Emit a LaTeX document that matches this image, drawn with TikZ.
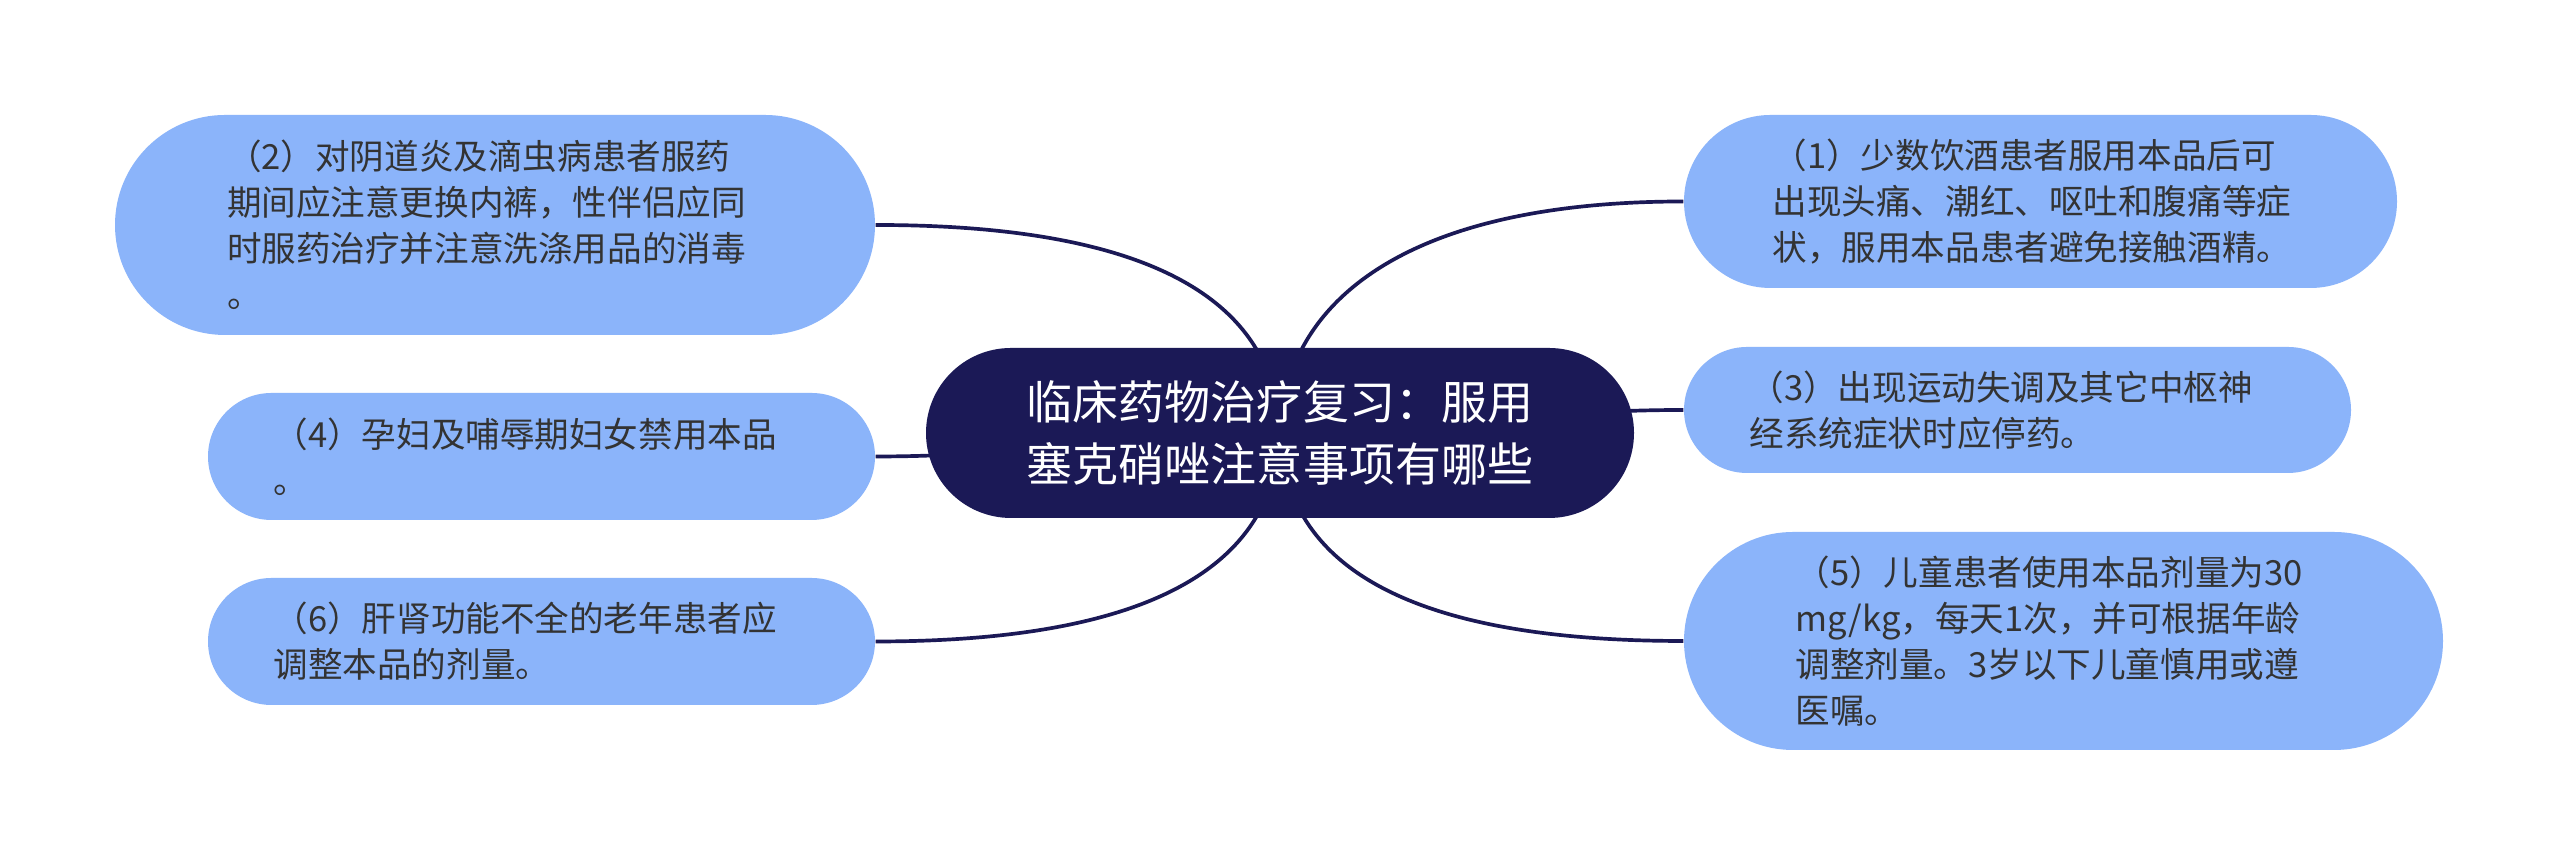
\documentclass[tikz,border=0pt]{standalone}
\usepackage{fontspec}
\newfontfamily\cjkfont{Noto Sans CJK SC}
\usetikzlibrary{shapes.misc}
\definecolor{navy}{RGB}{27,25,86}
\definecolor{leafblue}{RGB}{139,180,250}
\definecolor{leaftext}{RGB}{51,51,51}

\begin{document}
\begin{tikzpicture}[
  leaf/.style={rounded rectangle,fill=leafblue,inner sep=0pt,text width=5.36cm,align=left,text=leaftext,font=\cjkfont\fontsize{9.84pt}{13.1pt}\selectfont},
  hubnode/.style={rounded rectangle,fill=navy,inner sep=0pt,text=white,align=center,font=\cjkfont\fontsize{13.1pt}{17.6pt}\selectfont,minimum width=7.08cm,minimum height=1.70cm},
  link/.style={draw=navy,line width=1.05pt}
]
\path[fill=white,use as bounding box] (0,0) rectangle (25.6,8.67);
\coordinate (hub) at (12.8,4.34);

% left side
\node[leaf,minimum width=7.60cm,minimum height=2.20cm] (n2) at (4.95,6.42) {（2）对阴道炎及滴虫病患者服药\\期间应注意更换内裤，性伴侣应同\\时服药治疗并注意洗涤用品的消毒\\。};
\node[leaf,minimum width=6.67cm,minimum height=1.27cm] (n4) at (5.415,4.105) {（4）孕妇及哺辱期妇女禁用本品\\。};
\node[leaf,minimum width=6.67cm,minimum height=1.27cm] (n6) at (5.415,2.255) {（6）肝肾功能不全的老年患者应\\调整本品的剂量。};

% right side
\node[leaf,minimum width=7.13cm,minimum height=1.73cm] (n1) at (20.405,6.655) {（1）少数饮酒患者服用本品后可\\出现头痛、潮红、呕吐和腹痛等症\\状，服用本品患者避免接触酒精。};
\node[leaf,minimum width=6.67cm,minimum height=1.26cm] (n3) at (20.175,4.57) {（3）出现运动失调及其它中枢神\\经系统症状时应停药。};
\node[leaf,minimum width=7.59cm,minimum height=2.18cm] (n5) at (20.635,2.26) {（5）儿童患者使用本品剂量为30\\mg/kg，每天1次，并可根据年龄\\调整剂量。3岁以下儿童慎用或遵\\医嘱。};

\draw[link] (hub) .. controls +(-0.05,1.33) and +(2.75,0) .. (n2.east);
\draw[link] (hub) to[out=180,in=0] (n4.east);
\draw[link] (hub) .. controls +(-0.05,-1.33) and +(2.75,0) .. (n6.east);
\draw[link] (hub) .. controls +(0.05,1.33) and +(-2.75,0) .. (n1.west);
\draw[link] (hub) to[out=0,in=180] (n3.west);
\draw[link] (hub) .. controls +(0.05,-1.33) and +(-2.75,0) .. (n5.west);

\node[hubnode] (root) at (hub) {临床药物治疗复习：服用\\塞克硝唑注意事项有哪些};
\end{tikzpicture}
\end{document}
